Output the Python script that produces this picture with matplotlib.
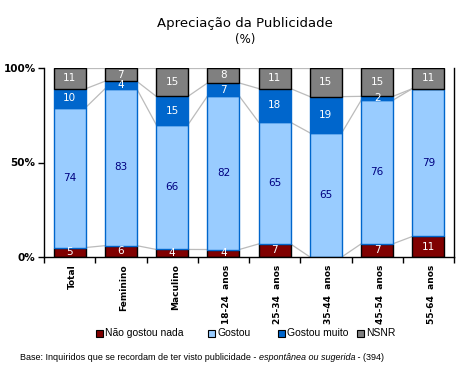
import matplotlib
matplotlib.use("Agg")
import matplotlib.pyplot as plt
from matplotlib.patches import Rectangle
import numpy as np

categories = ["Total", "Feminino", "Maculino", "18-24  anos", "25-34  anos",
              "35-44  anos", "45-54  anos", "55-64  anos"]
nao_gostou = [5, 6, 4, 4, 7, 0, 7, 11]
gostou = [74, 83, 66, 82, 65, 65, 76, 79]
gostou_muito = [10, 4, 15, 7, 18, 19, 2, 0]
nsnr = [11, 7, 15, 8, 11, 15, 15, 11]

series_names = ["Não gostou nada", "Gostou", "Gostou muito", "NSNR"]
series = [nao_gostou, gostou, gostou_muito, nsnr]
face = ["#800000", "#99CCFF", "#0066CC", "#808080"]
edge = ["#000000", "#0066CC", "#0066CC", "#000000"]
txtcol = ["white", "#000080", "white", "white"]

W, H = 474, 383
fig = plt.figure(figsize=(W/100, H/100), dpi=100)
ax = fig.add_axes([44/W, 1-257/H, (454-44)/W, (257-68)/H])

vals = np.array(series, dtype=float)  # shape (4, n)
tot = vals.sum(axis=0)
pct = vals / tot * 100
x = np.arange(len(categories))
w = 0.62

# series lines
cum = np.cumsum(pct, axis=0)
for j in range(4):
    for i in range(len(x) - 1):
        ax.plot([x[i] + w/2, x[i+1] - w/2], [cum[j, i], cum[j, i+1]],
                color="#BBBBBB", lw=0.9, zorder=1)

bottom = np.zeros(len(x))
for j in range(4):
    ax.bar(x, pct[j], w, bottom=bottom, color=face[j], edgecolor=edge[j],
           linewidth=1.0, zorder=2, label=series_names[j])
    for i in range(len(x)):
        v = series[j][i]
        if v > 0:
            ax.text(x[i], bottom[i] + pct[j][i]/2, str(v), ha="center", va="center",
                    color=txtcol[j], fontsize=7.5, zorder=3)
    bottom += pct[j]

ax.set_xlim(-0.5, len(x) - 0.5)
ax.set_ylim(0, 100)
ax.set_yticks([0, 50, 100])
ax.set_yticklabels(["0%", "50%", "100%"], fontsize=7.5, fontweight="bold")
ax.set_xticks(np.arange(len(x) + 1) - 0.5)
ax.set_xticklabels([])
ax.tick_params(axis="both", direction="out", length=4, width=1, color="black")
ax.tick_params(axis="y", pad=2)
for i, c in enumerate(categories):
    ax.text(x[i] + 0.06, -4, c, rotation=90, ha="center", va="top", fontsize=6.5,
            fontweight="bold", transform=ax.transData)
ax.spines["top"].set_visible(False)
for s in ["left", "bottom", "right"]:
    ax.spines[s].set_color("black")
    ax.spines[s].set_linewidth(1)

fig.text(245/W, 1-24/H, "Apreciação da Publicidade", ha="center", va="center",
         fontsize=9.5)
fig.text(245/W, 1-40/H, "(%)", ha="center", va="center", fontsize=8.5)

# manual legend (Excel-style uneven spacing)
leg_x = [96, 208, 278, 357]
ly = 333
for j in range(4):
    fig.patches.append(Rectangle((leg_x[j]/W, (H-ly-3.5)/H), 7/W, 7/H,
                                 transform=fig.transFigure, facecolor=face[j],
                                 edgecolor="black", linewidth=0.8))
    fig.text((leg_x[j] + 9)/W, 1-ly/H, series_names[j], ha="left", va="center",
             family="Liberation Sans", size=7.5)

# footnote with italic part
renderer = fig.canvas.get_renderer()
y0 = 1 - 358/H
fp = dict(family="Liberation Sans", size=6.5)
t1 = fig.text(20/W, y0, "Base: Inquiridos que se recordam de ter visto publicidade - ",
              ha="left", va="center", **fp)
bb = t1.get_window_extent(renderer)
t2 = fig.text(bb.x1/fig.bbox.width, y0, "espontânea ou sugerida", ha="left",
              va="center", style="italic", **fp)
bb2 = t2.get_window_extent(renderer)
fig.text(bb2.x1/fig.bbox.width, y0, " - (394)", ha="left", va="center", **fp)

fig.savefig("out.png", dpi=100)
